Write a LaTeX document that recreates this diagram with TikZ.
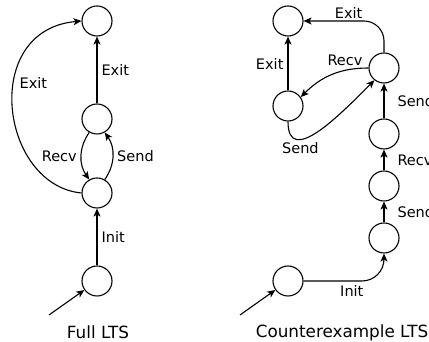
\documentclass[tikz,border=0pt]{standalone}
\usepackage{fontspec}
\setmainfont{DejaVu Sans}
\usetikzlibrary{arrows.meta}
\begin{document}
\begin{tikzpicture}[x=1pt,y=1pt,
  st/.style={circle,draw,line width=1.1pt,minimum size=30pt,inner sep=0pt},
  tr/.style={line width=1.1pt,-{Stealth[length=8pt,width=7pt,inset=2pt]}},
  lab/.style={font=\fontsize{14.5}{17}\selectfont,inner sep=4pt},
  captext/.style={font=\fontsize{16.8}{19}\selectfont}]
\useasboundingbox (0,0) rectangle (429,342);
% Full LTS
\node[st] (L1) at (97,321) {};
\node[st] (L2) at (97,223) {};
\node[st] (L3) at (97,149) {};
\node[st] (L4) at (97,61) {};
\coordinate (i1) at (49,27);
\draw[tr] (i1) -- (L4);
\draw[tr] (L4) -- node[lab,right] {Init} (L3);
\draw[tr] (L3.60) to[bend right=35] node[lab,right] {Send} (L2.-60);
\draw[tr] (L2.240) to[bend right=35] node[lab,left] {Recv} (L3.120);
\draw[tr] (L2) -- node[lab,right] {Exit} (L1);
\draw[tr] (L3.west) .. controls (0,157) and (-20,312) .. node[lab,pos=0.6,right,xshift=1pt] {Exit} (L1.west);
\node[captext] (c1) at (98,10) {Full LTS};
% Counterexample LTS
\node[st] (A) at (288,321) {};
\node[st] (B) at (288,236) {};
\node[st] (C) at (384,274) {};
\node[st] (D) at (384,208) {};
\node[st] (E) at (384,156) {};
\node[st] (F) at (384,104) {};
\node[st] (G) at (288,61) {};
\coordinate (i2) at (240,27);
\draw[tr] (i2) -- (G);
\draw[tr,rounded corners=22pt] (G.east) -| node[lab,pos=0.3,below] {Init} (F.south);
\draw[tr] (F) -- node[lab,right,xshift=9pt] {Send} (E);
\draw[tr] (E) -- node[lab,right,xshift=9pt] {Recv} (D);
\draw[tr] (D) -- node[lab,right,xshift=9pt] {Send} (C);
\draw[tr,rounded corners=20pt] (C.north) |- node[lab,pos=0.72,above,inner sep=2pt] {Exit} (A.east);
\draw[tr] (C.west) to[out=180,in=45] node[lab,pos=0.3,above] {Recv} (B.35);
\draw[tr] (B.south) to[out=-90,in=225,looseness=1.25] node[lab,pos=0.3,below,inner sep=2pt] {Send} (C.232);
\draw[tr] (B) -- node[lab,left] {Exit} (A);
\node[captext] (c2) at (342,9) {Counterexample LTS};
\end{tikzpicture}
\end{document}
